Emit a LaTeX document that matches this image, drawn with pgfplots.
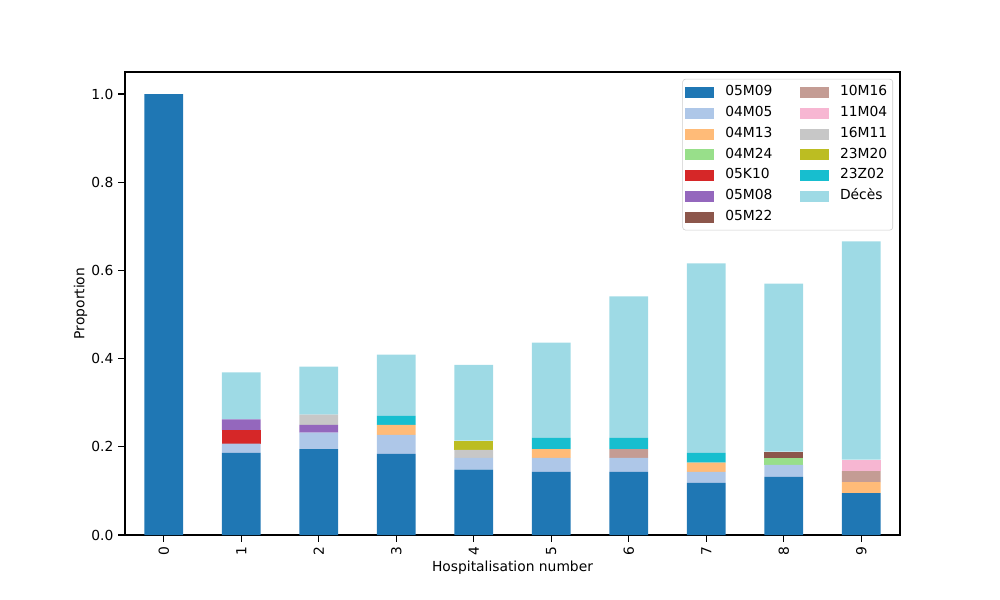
\documentclass[border=0pt]{standalone}
\usepackage{pgfplots}
\pgfplotsset{compat=1.18}
\usepackage{pgfplotstable}
\usepackage{fontspec}
\setmainfont{DejaVu Sans}
\definecolor{t1}{HTML}{1F77B4}
\definecolor{t2}{HTML}{AEC7E8}
\definecolor{t3}{HTML}{FFBB78}
\definecolor{t4}{HTML}{98DF8A}
\definecolor{t5}{HTML}{D62728}
\definecolor{t6}{HTML}{9467BD}
\definecolor{t7}{HTML}{8C564B}
\definecolor{t8}{HTML}{C49C94}
\definecolor{t9}{HTML}{F7B6D2}
\definecolor{t10}{HTML}{C7C7C7}
\definecolor{t11}{HTML}{BCBD22}
\definecolor{t12}{HTML}{17BECF}
\definecolor{t13}{HTML}{9EDAE5}
\pgfplotstableread{
x c1 c2 c3 c4 c5 c6 c7 c8 c9 c10 c11 c12 c13
0 1.000 0 0 0 0 0 0 0 0 0 0 0 0
1 0.186 0.021 0 0 0.030 0.025 0 0 0 0 0 0 0.107
2 0.195 0.037 0 0 0 0.018 0 0 0 0.023 0 0 0.109
3 0.184 0.043 0.023 0 0 0 0 0 0 0 0 0.020 0.139
4 0.148 0.027 0 0 0 0 0 0 0 0.018 0.021 0 0.172
5 0.143 0.032 0.020 0 0 0 0 0 0 0 0 0.025 0.216
6 0.143 0.032 0 0 0 0 0 0.020 0 0 0 0.025 0.321
7 0.118 0.025 0.021 0 0 0 0 0 0 0 0 0.022 0.430
8 0.132 0.027 0 0.016 0 0 0.014 0 0 0 0 0 0.381
9 0.095 0 0.025 0 0 0 0 0.025 0.026 0 0 0 0.495
}\datatable
\begin{document}
\begin{tikzpicture}[x=1in,y=1in]
\path (-1.25in,-0.65in) rectangle (8.75in,5.35in);
\begin{axis}[
  at={(0,0)}, anchor=south west,
  scale only axis, width=7.75in, height=4.63in,
  ybar stacked, bar width=0.5,
  xmin=-0.5, xmax=9.5, ymin=0, ymax=1.05,
  xtick={0,...,9},
  xticklabel style={rotate=90, anchor=east},
  ytick={0,0.2,0.4,0.6,0.8,1.0},
  yticklabel style={/pgf/number format/.cd, fixed, fixed zerofill, precision=1},
  /pgf/number format/assume math mode=true,
  tick align=outside, xtick pos=left, ytick pos=left,
  major tick length=4.9pt,
  tick style={black, line width=0.8pt},
  axis line style={line width=0.8pt},
  font=\fontsize{10}{12}\selectfont,
  xlabel={Hospitalisation number}, ylabel={Proportion},
  xlabel style={yshift=3pt},
  ylabel style={yshift=-4pt},
  legend columns=2,
  legend cell align=left,
  legend style={at={(rel axis cs:0.991,0.985)}, anchor=north east,
    draw=black!20, rounded corners=2pt, inner xsep=2pt, inner ysep=4.5pt,
    row sep=5pt, font=\fontsize{10}{12}\selectfont,
    nodes={inner xsep=2pt, inner ysep=0pt, text height=7.5pt, text depth=2.5pt},
    /tikz/every even column/.append style={column sep=18pt}},
]
\pgfplotsinvokeforeach{1,...,13}{
  \addplot+[draw=none, fill=t#1, forget plot] table[x=x, y=c#1] {\datatable};
}
\newcommand{\li}[2]{\addlegendimage{legend image code/.code={\fill[#1, sharp corners] (0pt,-0.05in) rectangle (0.28in,0.05in); \path (0.28in+6.2pt,0pt);}}\addlegendentry{#2}}
\li{t1}{05M09}
\li{t8}{10M16}
\li{t2}{04M05}
\li{t9}{11M04}
\li{t3}{04M13}
\li{t10}{16M11}
\li{t4}{04M24}
\li{t11}{23M20}
\li{t5}{05K10}
\li{t12}{23Z02}
\li{t6}{05M08}
\li{t13}{Décès}
\li{t7}{05M22}
\end{axis}
\end{tikzpicture}
\end{document}
